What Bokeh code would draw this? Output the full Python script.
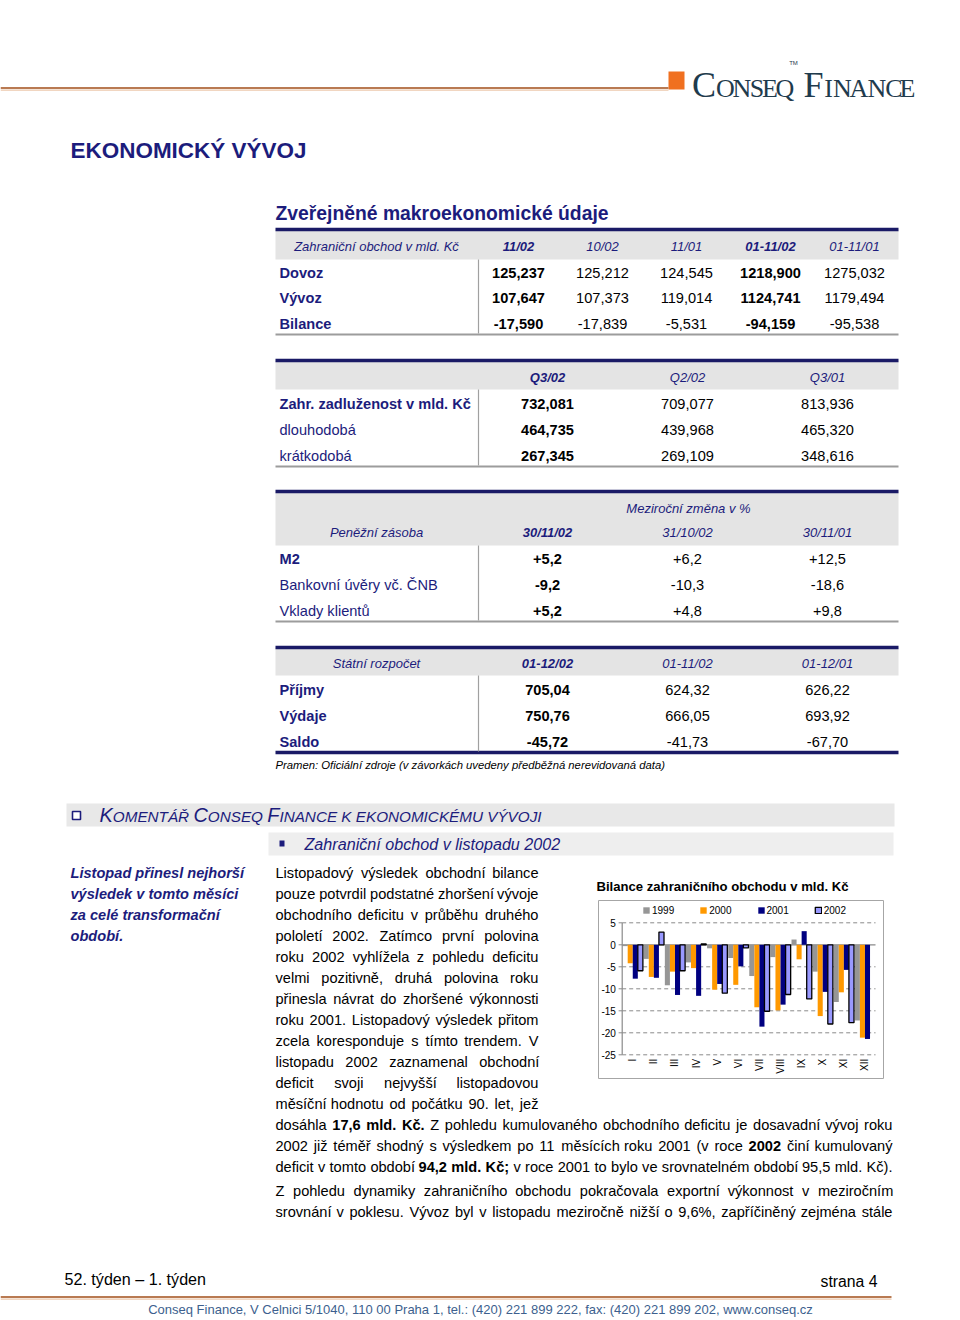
import math
import unicodedata
from bokeh.plotting import figure
from bokeh.models import Range1d, ColumnDataSource, Legend, LegendItem
from bokeh.transform import dodge
from bokeh.core.properties import value
from bokeh.embed import file_html
from bokeh.resources import INLINE

# ---------------- chart data ----------------
months = ["I", "II", "III", "IV", "V", "VI", "VII", "VIII", "IX", "X", "XI", "XII"]
years = ["1999", "2000", "2001", "2002"]
bal_1999 = [-0.3, -3.2, -9.2, -4.0, -0.8, -3.0, -7.1, -2.8, 1.2, -6.1, -13.0, -17.2]
bal_2000 = [-4.2, -7.3, -6.1, -5.3, -10.2, -9.1, -14.2, -14.9, -3.3, -16.2, -10.8, -21.1]
bal_2001 = [-7.7, -7.5, -11.4, -11.6, -8.9, -4.9, -18.6, -13.6, 3.1, -10.7, -5.7, -21.4]
bal_2002 = [-5.9, 2.9, -5.9, 0.2, -11.0, -0.7, -15.1, -11.3, -12.3, -18.0, -17.7, float("nan")]
y_ticks = [5, 0, -5, -10, -15, -20, -25]
bar_colors = ["#969696", "#ff9900", "#000080", "#9999ff"]

# ---------------- table data ----------------
trade_header = ["Zahraniční obchod v mld. Kč", "11/02", "10/02", "11/01", "01-11/02", "01-11/01"]
trade_rows = ["Dovoz", "Vývoz", "Bilance"]
trade_vals = [["125,237", "125,212", "124,545", "1218,900", "1275,032"],
              ["107,647", "107,373", "119,014", "1124,741", "1179,494"],
              ["-17,590", "-17,839", "-5,531", "-94,159", "-95,538"]]

debt_header = ["", "Q3/02", "Q2/02", "Q3/01"]
debt_rows = ["Zahr. zadluženost v mld. Kč", "dlouhodobá", "krátkodobá"]
debt_vals = [["732,081", "709,077", "813,936"],
             ["464,735", "439,968", "465,320"],
             ["267,345", "269,109", "348,616"]]

money_super = "Meziroční změna v %"
money_header = ["Peněžní zásoba", "30/11/02", "31/10/02", "30/11/01"]
money_rows = ["M2", "Bankovní úvěry vč. ČNB", "Vklady klientů"]
money_vals = [["+5,2", "+6,2", "+12,5"],
              ["-9,2", "-10,3", "-18,6"],
              ["+5,2", "+4,8", "+9,8"]]

budget_header = ["Státní rozpočet", "01-12/02", "01-11/02", "01-12/01"]
budget_rows = ["Příjmy", "Výdaje", "Saldo"]
budget_vals = [["705,04", "624,32", "626,22"],
               ["750,76", "666,05", "693,92"],
               ["-45,72", "-41,73", "-67,70"]]

source_note = "Pramen: Oficiální zdroje (v závorkách uvedeny předběžná nerevidovaná data)"

sidebar_lines = ["Listopad přinesl nejhorší", "výsledek v tomto měsíci",
                 "za celé transformační", "období."]
narrow_lines = [
    "Listopadový výsledek obchodní bilance",
    "pouze potvrdil podstatné zhoršení vývoje",
    "obchodního deficitu v průběhu druhého",
    "pololetí 2002. Zatímco první polovina",
    "roku 2002 vyhlížela z pohledu deficitu",
    "velmi pozitivně, druhá polovina roku",
    "přinesla návrat do zhoršené výkonnosti",
    "roku 2001. Listopadový výsledek přitom",
    "zcela koresponduje s tímto trendem. V",
    "listopadu 2002 zaznamenal obchodní",
    "deficit svoji nejvyšší listopadovou",
    "měsíční hodnotu od počátku 90. let, jež",
]
wide_lines = [
    "dosáhla **17,6 mld. Kč.** Z pohledu kumulovaného obchodního deficitu je dosavadní vývoj roku",
    "2002 již téměř shodný s výsledkem po 11 měsících roku 2001 (v roce **2002** činí kumulovaný",
    "deficit v tomto období **94,2 mld. Kč;** v roce 2001 to bylo ve srovnatelném období 95,5 mld. Kč).",
]
para2_lines = [
    "Z pohledu dynamiky zahraničního obchodu pokračovala exportní výkonnost v meziročním",
    "srovnání v poklesu. Vývoz byl v listopadu meziročně nižší o 9,6%, zapříčiněný zejména stále",
]
footer_address = ("Conseq Finance, V Celnici 5/1040, 110 00 Praha 1, tel.: (420) 221 899 222, "
                  "fax: (420) 221 899 202, www.conseq.cz")

# ---------------- styling ----------------
FONT = "Liberation Sans"
SERIF = "Liberation Serif"
NAVY = "#1c1c7c"
NAVY_LINE = "#1a1a66"
GRAYBAND = "#e4e4e4"
ORANGE = "#f07020"

# Arial / Liberation Sans advance widths (1/1000 em)
_UP = "ABCDEFGHIJKLMNOPQRSTUVWXYZ"
_LO = "abcdefghijklmnopqrstuvwxyz"
REG = dict(zip(_UP, [667, 667, 722, 722, 667, 611, 778, 722, 278, 500, 667, 556, 833, 722, 778, 667, 778,
                     722, 667, 611, 722, 667, 944, 667, 667, 611]))
REG.update(zip(_LO, [556, 556, 500, 556, 556, 278, 556, 556, 222, 222, 500, 222, 833, 556, 556, 556, 556,
                     333, 500, 278, 556, 500, 722, 500, 500, 500]))
BOLD = dict(zip(_UP, [722, 722, 722, 722, 667, 611, 778, 722, 278, 556, 722, 611, 833, 722, 778, 667, 778,
                      722, 667, 611, 722, 667, 944, 667, 667, 611]))
BOLD.update(zip(_LO, [556, 611, 556, 611, 556, 333, 611, 611, 278, 278, 556, 278, 889, 611, 611, 611, 611,
                      389, 556, 333, 611, 556, 778, 556, 556, 500]))
for d in (REG, BOLD):
    d.update({c: 556 for c in "0123456789"})
    d.update({" ": 278, ",": 278, ".": 278, "-": 333, "(": 333, ")": 333, "/": 278, "%": 889,
              "+": 584, "–": 556})
REG.update({":": 278, ";": 278})
BOLD.update({":": 333, ";": 333})


def tw(s, size, bold=False):
    tab = BOLD if bold else REG
    w = 0
    for ch in s:
        c = tab.get(ch)
        if c is None:
            c = tab.get(unicodedata.normalize("NFD", ch)[0], 556)
        w += c
    return w * size / 1000.0


def fit(s, target, bold=False):
    return round(target / tw(s, 1.0, bold), 2)


# ---------------- figure (data coords == reference page pixels) ----------------
W, H = 960, 1320
p = figure(width=W, height=H, x_range=Range1d(0, W), y_range=Range1d(H, 0),
           output_backend="svg", toolbar_location=None, min_border=0,
           x_axis_location=None, y_axis_location=None)
p.grid.visible = False
p.outline_line_color = None
p.background_fill_color = "white"
p.border_fill_color = "white"

texts = {}
segs = {}
quads = []


def T(x, y, s, size, style="normal", color="black", align="left", baseline="middle", font=FONT):
    key = (size, style, color, align, baseline, font)
    g = texts.setdefault(key, {"x": [], "y": [], "text": []})
    g["x"].append(x)
    g["y"].append(y)
    g["text"].append(s)


def S(x0, y0, x1, y1, color, width=1.0, dash="solid"):
    g = segs.setdefault((color, width, dash), {"x0": [], "y0": [], "x1": [], "y1": []})
    g["x0"].append(x0); g["y0"].append(y0); g["x1"].append(x1); g["y1"].append(y1)


def Q(l, r, t, b, fill, line=None, lw=1.0):
    quads.append((l, r, t, b, fill, line, lw))


# ---------------- page header ----------------
S(0, 87.5, 668, 87.5, "#b97a52", 2.2)
S(0, 89.6, 668, 89.6, "#ecc9ad", 1.4)
Q(668, 684, 71, 89, ORANGE)
logo = [("C", 703.5, 36), ("O", 725, 26), ("N", 741.5, 26), ("S", 756.5, 26), ("E", 769.5, 26),
        ("Q", 784.5, 26), ("F", 813, 36), ("I", 828, 26), ("N", 842, 26), ("A", 858.5, 26),
        ("N", 876.5, 26), ("C", 893.5, 26), ("E", 907, 26)]
LOGO_BASE = 97
for ch, cx, sz in logo:
    # 'middle' baseline: em-box centre sits ~0.3375 em above the alphabetic baseline
    T(cx, round(LOGO_BASE - 0.3375 * sz, 2), ch, sz, "normal", "#1f3b4d", "center", "middle", SERIF)
T(793, 62, "TM", 6, "normal", "#1f3b4d", "center", "middle", FONT)

T(70, 150, "EKONOMICKÝ VÝVOJ", fit("EKONOMICKÝ VÝVOJ", 236, True), "bold", NAVY)
T(275, 213, "Zveřejněné makroekonomické údaje",
  fit("Zveřejněné makroekonomické údaje", 333, True), "bold", NAVY)


# ---------------- tables ----------------
def draw_table(line_y, head_bot, head_y, header, col_x, bold_cols, rows, row_bold, row_ys,
               vals, bottom_y, bottom_navy=False):
    Q(275, 898, line_y, head_bot, GRAYBAND)
    S(275, line_y, 898, line_y, NAVY_LINE, 3.5)
    if header[0]:
        T(376, head_y, header[0], 13, "italic", NAVY, "center")
    for j, (h, cx) in enumerate(zip(header[1:], col_x)):
        T(cx, head_y, h, 13, "bold italic" if j in bold_cols else "italic", NAVY, "center")
    for i, (r, ry) in enumerate(zip(rows, row_ys)):
        T(279, ry, r, 14.6, "bold" if row_bold[i] else "normal", NAVY, "left")
        for j, (v, cx) in enumerate(zip(vals[i], col_x)):
            T(cx, ry, v, 14.6, "bold" if j in bold_cols else "normal", "black", "center")
    S(478, head_bot, 478, bottom_y - 1, "#a0a0a0", 1.2)
    if bottom_navy:
        S(275, bottom_y, 898, bottom_y, NAVY_LINE, 3.5)
    else:
        S(275, bottom_y, 898, bottom_y, "#9c9c9c", 2.2)


draw_table(229, 259, 246, trade_header, [518, 602, 686, 770, 854], {0, 3}, trade_rows,
           [True, True, True], [272, 297, 323], trade_vals, 334)
draw_table(360, 389, 377, debt_header, [547, 687, 827], {0}, debt_rows,
           [True, False, False], [403, 429, 455], debt_vals, 466)
draw_table(491, 545, 532, money_header, [547, 687, 827], {0}, money_rows,
           [True, False, False], [558, 584, 610], money_vals, 621)
T(688, 508, money_super, 13, "italic", NAVY, "center")
draw_table(647, 675, 663, budget_header, [547, 687, 827], {0}, budget_rows,
           [True, True, True], [689, 715, 741], budget_vals, 752, bottom_navy=True)
T(275, 764, source_note, fit(source_note, 389), "italic", "black")

# ---------------- commentary header ----------------
Q(66, 894, 803, 826, "#e8e8e8")
Q(72, 80, 811, 819, "white", NAVY, 1.6)
pieces = [("K", 1), ("OMENTÁŘ ", 0), ("C", 1), ("ONSEQ ", 0), ("F", 1),
          ("INANCE K EKONOMICKÉMU VÝVOJI", 0)]
nat = sum(tw(s, 17 if big else 13) for s, big in pieces)
k = 442.0 / nat
xx = 99.0
BASE = 821.0
for s, big in pieces:
    sz = round((17 if big else 13) * k, 2)
    T(round(xx, 2), round(BASE - 0.3465 * sz, 2), s, sz, "italic", NAVY, "left", "middle")
    xx += tw(s, sz)

Q(268, 893, 832, 855, "#eeeeee")
Q(279, 284, 840, 846, NAVY)
sub = "Zahraniční obchod v listopadu 2002"
T(304, 843, sub, fit(sub, 255), "italic", NAVY)

for i, s in enumerate(sidebar_lines):
    T(70, 872 + 21 * i, s, 14.6, "bold italic", NAVY)


# ---------------- justified body text ----------------
def justify(line, x0, x1, y, size=14.6):
    toks = []
    bold = False
    for w in line.split():
        if w.startswith("**"):
            bold = True
            w = w[2:]
        b = bold
        if w.endswith("**"):
            w = w[:-2]
            bold = False
        toks.append((w, b))
    widths = [tw(w, size, b) for w, b in toks]
    gap = (x1 - x0 - sum(widths)) / max(len(toks) - 1, 1)
    x = x0
    for (w, b), wd in zip(toks, widths):
        T(round(x, 2), y, w, size, "bold" if b else "normal", "black")
        x += wd + gap


for i, line in enumerate(narrow_lines):
    justify(line, 275, 538, 872 + 21 * i)
for i, line in enumerate(wide_lines):
    justify(line, 275, 892, 1124 + 21 * i)
for i, line in enumerate(para2_lines):
    justify(line, 275, 892, 1190 + 21 * i)

# ---------------- chart ----------------
chart_title = "Bilance zahraničního obchodu v mld. Kč"
T(596, 886, chart_title, fit(chart_title, 252, True), "bold", "black")
Q(598, 883, 900, 1078, "white", "#a6a6a6", 1.0)

CX0, CDX = 621.7, 21.11   # page px of category origin, px per category
CY0, CDY = 944.3, 4.4     # page px of value 0, px per unit
p.extra_x_ranges = {"bx": Range1d((0 - CX0) / CDX, (W - CX0) / CDX)}
p.extra_y_ranges = {"by": Range1d((CY0 - H) / CDY, (CY0 - 0) / CDY)}

# ---- draw static shapes first ----
for (l, r, t, b, fill, line, lw) in quads:
    p.quad(left=l, right=r, top=t, bottom=b, fill_color=fill, line_color=line, line_width=lw)
for (color, width, dash), g in segs.items():
    p.segment(x0="x0", y0="y0", x1="x1", y1="y1", source=ColumnDataSource(g),
              line_color=color, line_width=width, line_dash=dash)

n = len(months)
grid_vals = [v for v in y_ticks if v != 0]
p.segment(x0=[0] * len(grid_vals), x1=[n] * len(grid_vals), y0=grid_vals, y1=grid_vals,
          x_range_name="bx", y_range_name="by", line_color="#8a8a8a", line_width=1, line_dash="4 3")
p.segment(x0=[0], x1=[n], y0=[0], y1=[0], x_range_name="bx", y_range_name="by",
          line_color="#8a8a8a", line_width=1.2)

src = ColumnDataSource(dict(u=[i + 0.5 for i in range(n)], y1999=bal_1999, y2000=bal_2000,
                            y2001=bal_2001, y2002=bal_2002))
bw = 0.24
rends = []
for kk, yr in enumerate(years):
    outline = yr == "2002"
    r = p.vbar(x=dodge("u", (kk - 1.5) * bw), top="y" + yr, bottom=0, width=bw, source=src,
               x_range_name="bx", y_range_name="by", fill_color=bar_colors[kk],
               line_color="black" if outline else None, line_width=1.3 if outline else 0)
    rends.append(r)

# y axis line and ticks
p.segment(x0=[0], x1=[0], y0=[max(y_ticks)], y1=[min(y_ticks)], x_range_name="bx", y_range_name="by",
          line_color="#8a8a8a", line_width=1.2)
p.segment(x0=[-0.17] * len(y_ticks), x1=[0] * len(y_ticks), y0=y_ticks, y1=y_ticks,
          x_range_name="bx", y_range_name="by", line_color="#8a8a8a", line_width=1)
p.text(x=[-0.3] * len(y_ticks), y=y_ticks, text=[str(v) for v in y_ticks],
       x_range_name="bx", y_range_name="by", text_font=value(FONT), text_font_size="10px",
       text_align="right", text_baseline="middle", text_color="black")
p.text(x=[i + 0.5 for i in range(n)], y=[min(y_ticks) - 0.9] * n, text=months, angle=math.pi / 2,
       x_range_name="bx", y_range_name="by", text_font=value(FONT), text_font_size="10px",
       text_align="right", text_baseline="middle", text_color="black")

legend = Legend(items=[LegendItem(label=yr, renderers=[r]) for yr, r in zip(years, rends)],
                orientation="horizontal", location=(642, H - 916), glyph_width=8, glyph_height=8,
                label_standoff=2, spacing=25, padding=0, margin=0, label_height=12,
                border_line_color=None, background_fill_alpha=0,
                label_text_font=FONT, label_text_font_size="10px", label_text_color="black")
p.add_layout(legend)

# ---------------- footer ----------------
T(64, 1278, "52.  týden – 1. týden", fit("52.  týden – 1. týden", 146), "normal", "black")
T(877, 1281, "strana 4", fit("strana 4", 57), "normal", "black", "right")
Q(891, 909, 1276, 1297, ORANGE)
p.segment(x0=[0], x1=[891], y0=[1296.5], y1=[1296.5], line_color="#b97a52", line_width=2.2)
p.segment(x0=[0], x1=[891], y0=[1298.6], y1=[1298.6], line_color="#ecc9ad", line_width=1.4)
T(480, 1309, footer_address, fit(footer_address, 667), "normal", "#3d5f8e", "center")

# ---------------- draw texts ----------------
for (size, style, color, align, baseline, font), g in texts.items():
    p.text(x="x", y="y", text="text", source=ColumnDataSource(g), text_font=value(font),
           text_font_size=f"{size}px", text_font_style=style, text_color=color,
           text_align=align, text_baseline=baseline)

open("out.html", "w").write(file_html(p, INLINE))
